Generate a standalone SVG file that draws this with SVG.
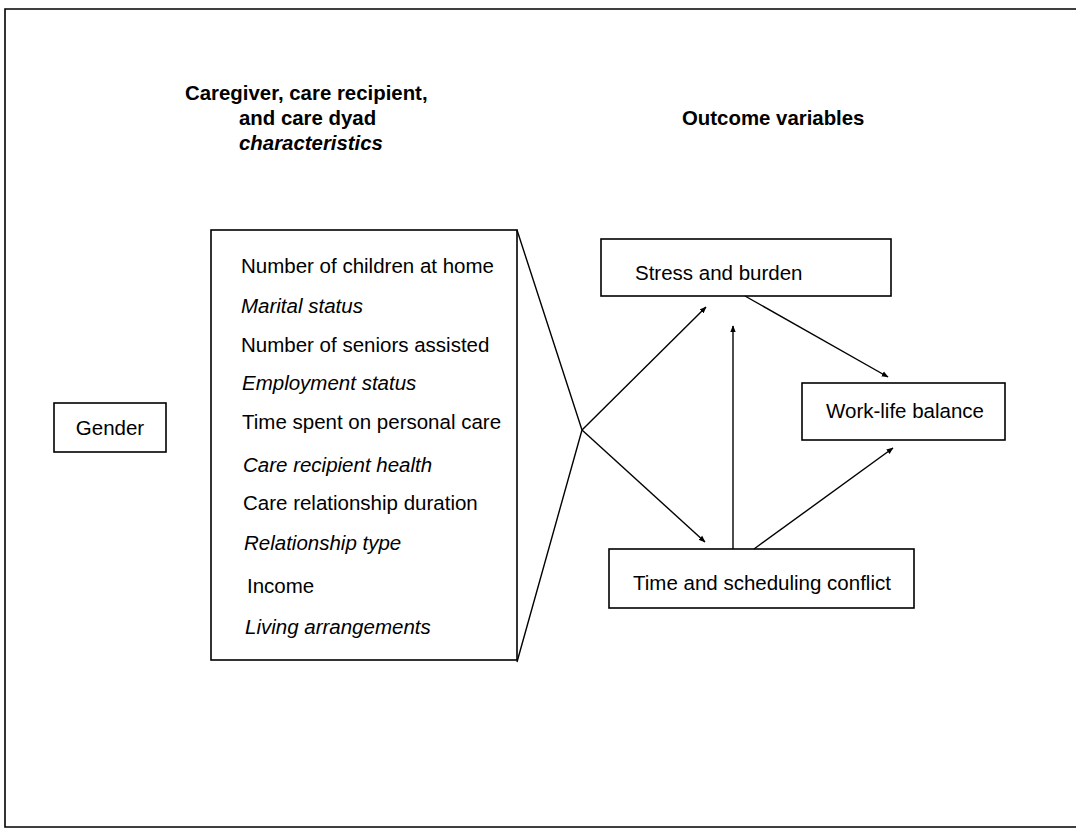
<svg xmlns="http://www.w3.org/2000/svg" width="1076" height="828" viewBox="0 0 1076 828">
<style>
.box{fill:#fff;stroke:#000;stroke-width:1.6}
.t{font-family:"Liberation Sans",Arial,sans-serif;font-size:20.5px;fill:#000}
.i{font-style:italic}
.h{font-family:"Liberation Sans",Arial,sans-serif;font-size:20.4px;font-weight:bold;fill:#000}
.c{fill:none;stroke:#000;stroke-width:1.4}
</style>
<defs>
<marker id="ah" viewBox="0 0 10 10" refX="9" refY="5" markerWidth="7" markerHeight="7" markerUnits="userSpaceOnUse" orient="auto">
<path d="M0,1 L10,5 L0,9 Z" fill="#000"/>
</marker>
</defs>
<rect width="1076" height="828" fill="#fff"/>
<path d="M1076,9 H5 V827 H1076" fill="none" stroke="#000" stroke-width="1.6"/>
<g id="heading-left">
<text class="h" x="185" y="100">Caregiver, care recipient,</text>
<text class="h" x="239" y="125">and care dyad</text>
<text class="h" x="239" y="150" font-style="italic">characteristics</text>
</g>
<g id="heading-right">
<text class="h" x="682" y="125">Outcome variables</text>
</g>
<g id="gender">
<rect class="box" x="54" y="403" width="112" height="49"/>
<text class="t" x="110" y="435" text-anchor="middle">Gender</text>
</g>
<g id="characteristics">
<rect class="box" x="211" y="230" width="306" height="430"/>
<text class="t" x="241" y="273">Number of children at home</text>
<text class="t i" x="241" y="313">Marital status</text>
<text class="t" x="241" y="352">Number of seniors assisted</text>
<text class="t i" x="242" y="390">Employment status</text>
<text class="t" x="242" y="429">Time spent on personal care</text>
<text class="t i" x="243" y="472">Care recipient health</text>
<text class="t" x="243" y="510">Care relationship duration</text>
<text class="t i" x="244" y="550">Relationship type</text>
<text class="t" x="247" y="593">Income</text>
<text class="t i" x="245" y="634">Living arrangements</text>
</g>
<g id="stress">
<rect class="box" x="601" y="239" width="290" height="57"/>
<text class="t" x="635" y="280">Stress and burden</text>
</g>
<g id="worklife">
<rect class="box" x="802" y="383" width="203" height="57"/>
<text class="t" x="826" y="418">Work-life balance</text>
</g>
<g id="time">
<rect class="box" x="609" y="549" width="305" height="59"/>
<text class="t" x="633" y="590">Time and scheduling conflict</text>
</g>
<g id="connectors">
<path class="c" d="M517,230 L582,430 L517,662"/>
<line class="c" x1="582" y1="430" x2="706" y2="307" marker-end="url(#ah)"/>
<line class="c" x1="582" y1="430" x2="705" y2="542" marker-end="url(#ah)"/>
<line class="c" x1="733" y1="549" x2="733" y2="326" marker-end="url(#ah)"/>
<line class="c" x1="745" y1="296" x2="888" y2="377" marker-end="url(#ah)"/>
<line class="c" x1="754" y1="549" x2="893" y2="448" marker-end="url(#ah)"/>
</g>
</svg>
